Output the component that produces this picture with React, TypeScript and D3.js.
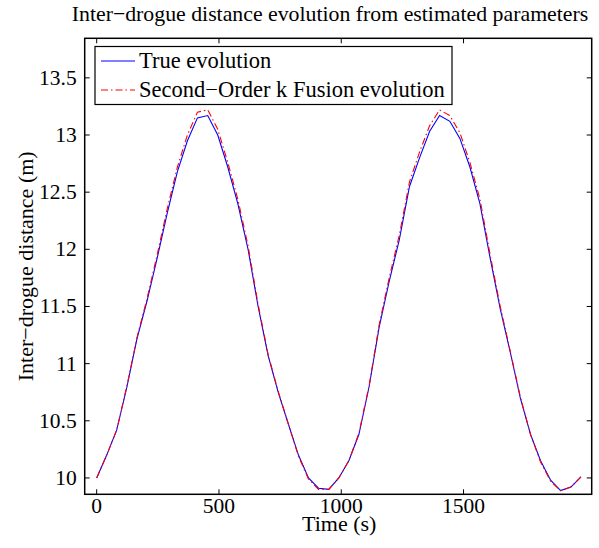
import React from "react";
import * as d3 from "d3";

const timeS = [0, 41, 82, 124, 165, 206, 247, 289, 330, 371, 412, 454, 495, 536, 577, 619, 660, 701, 742, 784, 825, 866, 907, 949, 990, 1031, 1072, 1114, 1155, 1196, 1237, 1279, 1320, 1361, 1402, 1444, 1485, 1526, 1567, 1609, 1650, 1691, 1732, 1774, 1815, 1856, 1897, 1939, 1980];
const trueEvolution = [10.00, 10.20, 10.42, 10.80, 11.22, 11.55, 11.92, 12.32, 12.68, 12.95, 13.15, 13.17, 13.00, 12.72, 12.40, 12.00, 11.50, 11.07, 10.75, 10.47, 10.20, 10.00, 9.91, 9.90, 10.00, 10.15, 10.38, 10.80, 11.32, 11.72, 12.08, 12.55, 12.80, 13.03, 13.17, 13.12, 12.97, 12.72, 12.40, 11.92, 11.48, 11.10, 10.70, 10.38, 10.15, 9.98, 9.89, 9.92, 10.01];
const fusionEvolution = [10.00, 10.20, 10.42, 10.81, 11.23, 11.57, 11.95, 12.36, 12.72, 13.00, 13.20, 13.22, 13.05, 12.76, 12.44, 12.03, 11.52, 11.08, 10.76, 10.47, 10.19, 9.99, 9.90, 9.90, 10.00, 10.15, 10.39, 10.81, 11.34, 11.75, 12.12, 12.59, 12.85, 13.08, 13.22, 13.17, 13.02, 12.76, 12.44, 11.95, 11.50, 11.11, 10.71, 10.38, 10.14, 9.97, 9.89, 9.92, 10.01];
const xTicks = [0, 500, 1000, 1500];
const yTicks = [10, 10.5, 11, 11.5, 12, 12.5, 13, 13.5];
const seriesNames = ["True evolution", "Second\u2212Order k Fusion evolution"];

const W = 599, H = 548;
const L = 84.7, R = 591.7, T = 38.3, B = 494.3;
const FONT = "Liberation Serif";

export default function App() {
  const x = d3.scaleLinear().domain([-49, 2024]).range([L, R]);
  const y = d3.scaleLinear().domain([9.857, 13.846]).range([B, T]);
  const line = d3.line<number>().x((_, i) => x(timeS[i])).y((d) => y(d));
  const fmtY = (v: number) => (Number.isInteger(v) ? String(v) : v.toFixed(1));
  const st = (s: number) => ({ fontFamily: FONT, fontSize: s } as React.CSSProperties);
  return (
    <svg width={W} height={H} style={{ position: "absolute", left: 0, top: 0, background: "#fff" }}>
      <rect x={0} y={0} width={W} height={H} fill="#fff" />
      <text x={330} y={21} textAnchor="middle" style={st(21.8)}>
        Inter{"\u2212"}drogue distance evolution from estimated parameters
      </text>
      <defs>
        <clipPath id="clip"><rect x={L} y={T} width={R - L} height={B - T} /></clipPath>
      </defs>
      <g clipPath="url(#clip)">
        <path d={line(trueEvolution) || ""} fill="none" stroke="#0000ff" strokeWidth={1.1} />
        <path d={line(fusionEvolution) || ""} fill="none" stroke="#ff0000" strokeWidth={1.1} strokeDasharray="7,3,1.5,3" />
      </g>
      {xTicks.map((t) => (
        <g key={"x" + t}>
          <line x1={x(t)} x2={x(t)} y1={B} y2={B - 5} stroke="#000" />
          <line x1={x(t)} x2={x(t)} y1={T} y2={T + 5} stroke="#000" />
          <text x={x(t)} y={B + 19} textAnchor="middle" style={st(21.5)}>{t}</text>
        </g>
      ))}
      {yTicks.map((t) => (
        <g key={"y" + t}>
          <line x1={L} x2={L + 5} y1={y(t)} y2={y(t)} stroke="#000" />
          <line x1={R} x2={R - 5} y1={y(t)} y2={y(t)} stroke="#000" />
          <text x={L - 8} y={y(t) + 7} textAnchor="end" style={st(21.5)}>{fmtY(t)}</text>
        </g>
      ))}
      <rect x={L} y={T} width={R - L} height={B - T} fill="none" stroke="#000" strokeWidth={1.5} />
      <text x={(L + R) / 2 + 1} y={B + 37} textAnchor="middle" style={st(22)}>Time (s)</text>
      <text transform={`translate(33,${(T + B) / 2}) rotate(-90)`} textAnchor="middle" style={st(22)}>
        Inter{"\u2212"}drogue distance (m)
      </text>
      <g>
        <rect x={95} y={46.5} width={357} height={58} fill="#fff" stroke="#000" strokeWidth={1.2} />
        <line x1={101} x2={135} y1={61} y2={61} stroke="#0000ff" strokeWidth={1.1} />
        <line x1={101} x2={135} y1={90} y2={90} stroke="#ff0000" strokeWidth={1.1} strokeDasharray="7,3,1.5,3" />
        <text x={139} y={68} style={st(22.5)}>{seriesNames[0]}</text>
        <text x={139} y={97} style={st(22.5)}>{seriesNames[1]}</text>
      </g>
    </svg>
  );
}
